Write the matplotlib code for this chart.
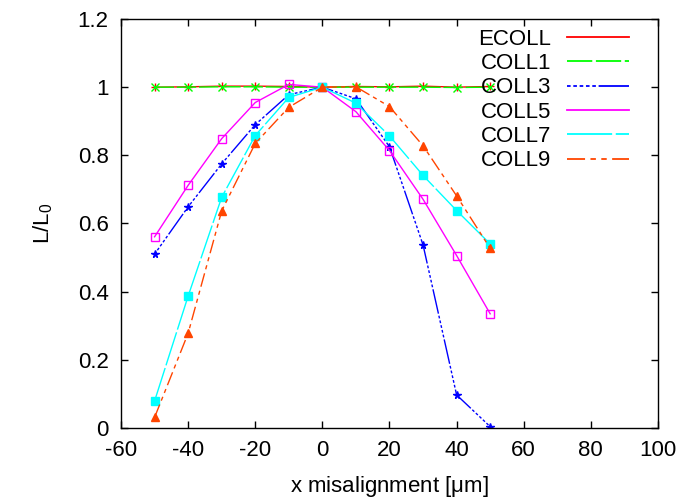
import matplotlib
matplotlib.use("Agg")
import matplotlib.pyplot as plt
from matplotlib.lines import Line2D
from matplotlib.ticker import FormatStrFormatter

plt.rcParams['font.family'] = ['Liberation Sans', 'DejaVu Sans']
plt.rcParams['mathtext.fontset'] = 'custom'
plt.rcParams['mathtext.rm'] = 'Liberation Sans'
plt.rcParams['mathtext.it'] = 'Liberation Sans'
plt.rcParams['axes.unicode_minus'] = False

# misalignment in micrometres
x = [-50, -40, -30, -20, -10, 0, 10, 20, 30, 40, 50]

ecoll = [1.000, 1.001, 1.003, 1.003, 1.002, 1.000, 1.002, 1.001, 1.003, 1.000, 1.002]
coll1 = [1.000, 1.000, 1.001, 1.001, 1.000, 1.000, 1.000, 1.000, 1.000, 0.999, 1.000]
coll3 = [0.510, 0.649, 0.775, 0.890, 0.978, 1.000, 0.966, 0.825, 0.537, 0.097, 0.004]
coll5 = [0.561, 0.712, 0.849, 0.955, 1.008, 1.000, 0.928, 0.814, 0.671, 0.506, 0.335]
coll7 = [0.079, 0.387, 0.677, 0.858, 0.970, 1.000, 0.953, 0.857, 0.741, 0.638, 0.540]
coll9 = [0.031, 0.278, 0.637, 0.835, 0.941, 1.000, 1.001, 0.943, 0.828, 0.681, 0.527]

labels = ['ECOLL', 'COLL1', 'COLL3', 'COLL5', 'COLL7', 'COLL9']

# colour, dash pattern, marker, marker fill
styles = [
    ('#ff0000', '-',                      '+', 'full'),
    ('#00ff00', (0, (14, 2)),             'x', 'full'),
    ('#0000ff', (0, (2, 1.5, 2, 1.5, 2, 1.5, 2, 1.5, 2, 1.5, 18, 1.5)), '*', 'full'),
    ('#ff00ff', '-',                      's', 'none'),
    ('#00ffff', (0, (25, 2)),             's', 'full'),
    ('#ff4500', (0, (10, 3, 3, 3, 3, 3)), '^', 'full'),
]

fig = plt.figure(figsize=(6.81, 5.04), dpi=100)
ax = fig.add_axes([0.1777, 0.1508, 0.7885, 0.8115])

handles = []
for ys, lab, (col, ls, mk, fs) in zip([ecoll, coll1, coll3, coll5, coll7, coll9], labels, styles):
    ax.plot(x, ys, color=col, linestyle=ls, linewidth=1.0,
            marker=mk, markersize=5.5, fillstyle=fs, markeredgewidth=1.0)
    handles.append(Line2D([], [], color=col, linestyle=ls, linewidth=1.3))

ax.set_xlim(-60, 100)
ax.set_ylim(0, 1.2)
ax.set_xticks(range(-60, 101, 20))
ax.set_yticks([0, 0.2, 0.4, 0.6, 0.8, 1.0, 1.2])
ax.yaxis.set_major_formatter(FormatStrFormatter('%g'))

ax.tick_params(direction='in', top=True, right=True, length=5, width=1,
               labelsize=16, pad=9)
for sp in ax.spines.values():
    sp.set_linewidth(1.0)

ax.set_xlabel(r'x misalignment [$\mathrm{\mu}$m]', fontsize=16, labelpad=9)
ax.set_ylabel(r'L/L$_0$', fontsize=16, labelpad=16)

ax.legend(handles, labels, loc='upper right', bbox_to_anchor=(0.946, 0.976),
          frameon=False, markerfirst=False, fontsize=16, handlelength=2.8,
          handletextpad=0.7, labelspacing=0.15, borderpad=0, borderaxespad=0)

fig.savefig('out.png', dpi=100)
